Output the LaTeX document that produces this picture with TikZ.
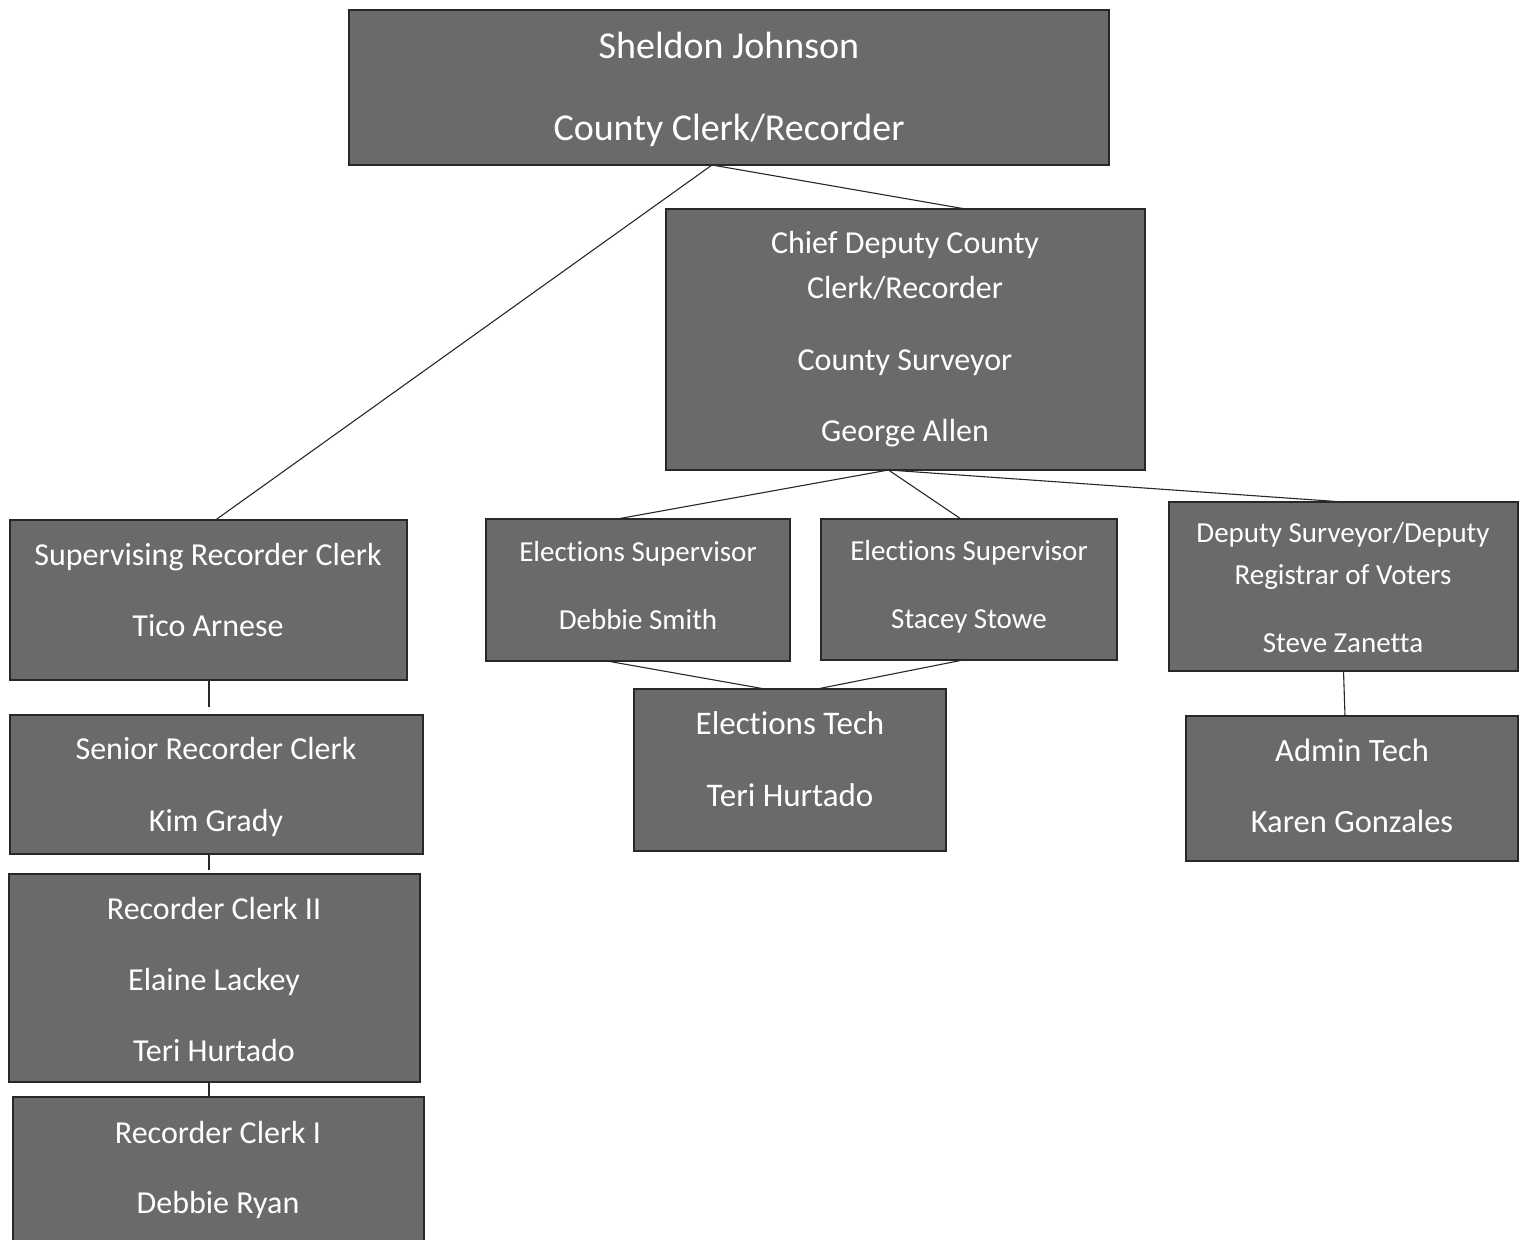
\documentclass[tikz,border=0pt]{standalone}
\usepackage{fontspec}
\setmainfont{Carlito}[Ligatures=NoCommon]
\definecolor{boxfill}{RGB}{106,106,106}
\definecolor{boxline}{RGB}{40,40,40}
\definecolor{conn}{RGB}{40,40,40}
\begin{document}
\begin{tikzpicture}[x=1pt,y=-1pt,
  orgbox/.style={draw=boxline, line width=2.2pt, fill=boxfill, inner sep=0pt, outer sep=0pt},
  txt/.style={text=white, inner sep=0pt, anchor=base, font=\fontsize{#1pt}{#1pt}\selectfont, yshift=-0.322*#1pt},
  conline/.style={draw=conn, line width=1.1pt}]
\useasboundingbox (0,0) rectangle (1525,1239);
\begin{scope}
\clip (0,0) rectangle (1525,1239);
% boxes
\node[orgbox, minimum width=760, minimum height=155] (top) at (729,87.5) {};
\node[orgbox, minimum width=479, minimum height=261] (chief) at (905.5,339.5) {};
\node[orgbox, minimum width=397, minimum height=160] (sup) at (208.5,600) {};
\node[orgbox, minimum width=413, minimum height=139] (senior) at (216.5,784.5) {};
\node[orgbox, minimum width=411, minimum height=208] (rctwo) at (214.5,978) {};
\node[orgbox, minimum width=411, minimum height=163] (rcone) at (218.5,1178.5) {};
\node[orgbox, minimum width=304, minimum height=142] (debbie) at (638,590) {};
\node[orgbox, minimum width=296, minimum height=141] (stacey) at (969,589.5) {};
\node[orgbox, minimum width=349, minimum height=169] (deputy) at (1343.5,586.5) {};
\node[orgbox, minimum width=312, minimum height=162] (etech) at (790,770) {};
\node[orgbox, minimum width=332, minimum height=145] (admin) at (1352,788.5) {};
% texts
\node[txt=38] (topa) at (729,46) {Sheldon Johnson};
\node[txt=38] (topb) at (729,128) {County Clerk/Recorder};
\node[txt=32] (chiefa) at (905,243) {Chief Deputy County};
\node[txt=32] (chiefb) at (905,288) {Clerk/Recorder};
\node[txt=32] (chiefc) at (905,360) {County Surveyor};
\node[txt=32] (chiefd) at (905,431) {George Allen};
\node[txt=32] (supa) at (208,555) {Supervising Recorder Clerk};
\node[txt=32] (supb) at (208,626) {Tico Arnese};
\node[txt=32] (seniora) at (216,749) {Senior Recorder Clerk};
\node[txt=32] (seniorb) at (216,821) {Kim Grady};
\node[txt=32] (rctwoa) at (214,909) {Recorder Clerk II};
\node[txt=32] (rctwob) at (214,980) {Elaine Lackey};
\node[txt=32] (rctwoc) at (214,1051) {Teri Hurtado};
\node[txt=32] (rconea) at (218,1133) {Recorder Clerk I};
\node[txt=32] (rconeb) at (218,1203) {Debbie Ryan};
\node[txt=29] (debbiea) at (638,552) {Elections Supervisor};
\node[txt=29] (debbieb) at (638,620) {Debbie Smith};
\node[txt=29] (staceya) at (969,551) {Elections Supervisor};
\node[txt=29] (staceyb) at (969,619) {Stacey Stowe};
\node[txt=29] (deputya) at (1343,533) {Deputy Surveyor/Deputy};
\node[txt=29] (deputyb) at (1343,575) {Registrar of Voters};
\node[txt=29] (deputyc) at (1343,643) {Steve Zanetta};
\node[txt=33] (etecha) at (790,724) {Elections Tech};
\node[txt=33] (etechb) at (790,796) {Teri Hurtado};
\node[txt=32.5] (admina) at (1352,751) {Admin Tech};
\node[txt=32.5] (adminb) at (1352,822) {Karen Gonzales};
% connectors
\draw[conline] ([xshift=-17pt]top.south) -- ([xshift=7pt]sup.north);
\draw[conline] ([xshift=-17pt]top.south) -- ([xshift=60pt]chief.north);
\draw[conline] ([xshift=-17pt]chief.south) -- ([xshift=-21pt]debbie.north);
\draw[conline] ([xshift=-17pt]chief.south) -- ([xshift=-8pt]stacey.north);
\draw[conline] ([xshift=-17pt]chief.south) -- (deputy.north);
\draw[conline] ([xshift=-31pt]debbie.south) -- ([xshift=-25pt]etech.north);
\draw[conline] ([xshift=-6pt]stacey.south) -- ([xshift=27pt]etech.north);
\draw[conline] (deputy.south) -- ([xshift=-7pt]admin.north);
\draw[conline, shorten >=8pt] ([xshift=0.5pt]sup.south) -- ([xshift=-7.5pt]senior.north);
\draw[conline, shorten >=4pt] ([xshift=-7.5pt]senior.south) -- ([xshift=-5.5pt]rctwo.north);
\draw[conline] ([xshift=-5.5pt]rctwo.south) -- ([xshift=-9.5pt]rcone.north);
\end{scope}
\end{tikzpicture}
\end{document}
